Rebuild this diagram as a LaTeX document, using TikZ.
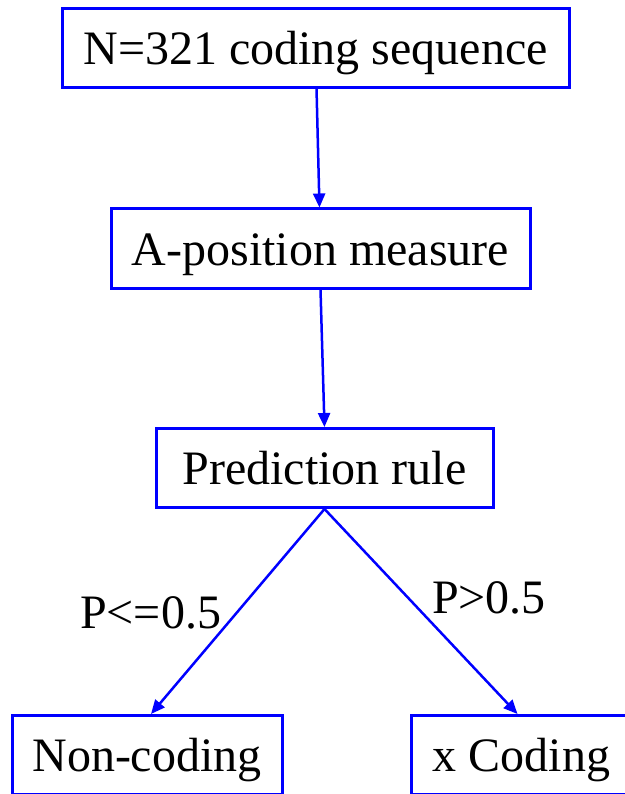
\documentclass[tikz,border=0pt]{standalone}
\usepackage{fontspec}
\setmainfont{Liberation Serif}
\newfontfamily\flowfont{Liberation Serif}
\usetikzlibrary{arrows.meta,positioning}
\definecolor{flowblue}{rgb}{0,0,1}

\begin{document}
\begin{tikzpicture}[x=1pt,y=-1pt,
    box/.style={draw=flowblue, line width=3pt, minimum height=79pt, inner xsep=19pt,
      text height=36pt, text depth=3pt, font=\flowfont\fontsize{48}{58}\selectfont},
    link/.style={draw=flowblue, line width=2.5pt, -{Triangle[length=14pt,width=12pt]}},
    cond/.style={font=\flowfont\fontsize{48}{58}\selectfont, inner sep=0pt, anchor=base west}]
        % Page frame
        \useasboundingbox (0,0) rectangle (624,794);
        % Boxes
        \node[box, minimum width=507pt] (seq) at (315.5,48) {N=321 coding sequence};
        \node[box, minimum width=419pt] (meas) at (320.5,248.5) {A-position measure};
        \node[box, minimum width=337pt] (rule) at (324.5,468) {Prediction rule\ };
        \node[box, minimum width=270pt] (nonc) at (147,755) {Non-coding};
        \node[box, minimum width=220pt] (codg) at (521.5,755) {x Coding};
        % Arrows
        \draw[link] (seq) -- (meas);
        \draw[link] (meas.south) -- (rule.north);
        \draw[link] (rule.south) -- ([xshift=4pt]nonc.north);
        \draw[link] (rule.south) -- ([xshift=-4pt]codg.north);
        % Branch labels
        \node[cond] (lblle) at (80,628) {P<=0.5};
        \node[cond] (lblgt) at (432,613) {P>0.5};
\end{tikzpicture}
\end{document}
